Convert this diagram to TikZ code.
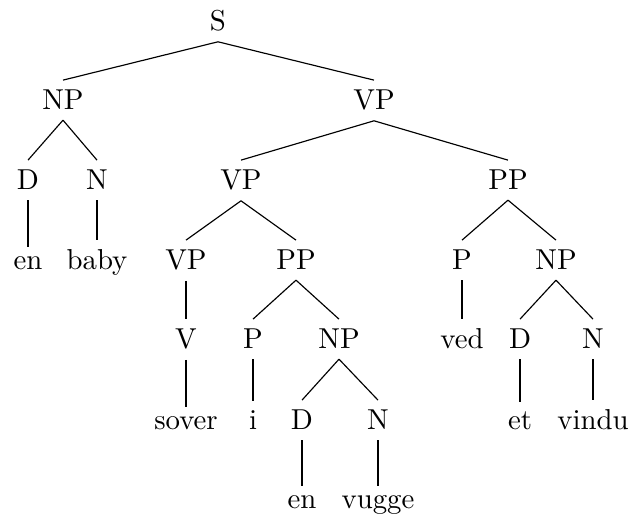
\documentclass[tikz,border=0pt]{standalone}
\begin{document}
\begin{tikzpicture}[x=0.347pt,y=-0.347pt,
  lab/.style={anchor=base, inner sep=3.33pt},
  branch/.style={draw=black, line width=0.4pt}]
\useasboundingbox (0,0) rectangle (630,518);
% row 1
\node[lab] (S) at (218,31) {S};
% row 2
\node[lab] (np1) at (63,110) {NP};
\node[lab] (vp1) at (374,110) {VP};
% row 3
\node[lab] (d1) at (28,190) {D};
\node[lab] (n1) at (97,190) {N};
\node[lab] (vp2) at (241,190) {VP};
\node[lab] (pp1) at (508,190) {PP};
% row 4
\node[lab] (en1) at (28,270) {en};
\node[lab] (baby) at (97,270) {baby};
\node[lab] (vp3) at (186,270) {VP};
\node[lab] (pp2) at (296,270) {PP};
\node[lab] (p1) at (462,270) {P};
\node[lab] (np2) at (556,270) {NP};
% row 5
\node[lab] (v) at (186,349) {V};
\node[lab] (p2) at (253,349) {P};
\node[lab] (np3) at (339,349) {NP};
\node[lab] (ved) at (462,349) {ved};
\node[lab] (d2) at (520,349) {D};
\node[lab] (n2) at (593,349) {N};
% row 6
\node[lab] (sover) at (186,430) {sover};
\node[lab] (iw) at (253,430) {i};
\node[lab] (d3) at (302,430) {D};
\node[lab] (n3) at (378,430) {N};
\node[lab] (et) at (520,430) {et};
\node[lab] (vindu) at (593,430) {vindu};
% row 7
\node[lab] (en2) at (302,509) {en};
\node[lab] (vugge) at (378,509) {vugge};
% edges
\draw[branch] (S.south) -- (np1.north);
\draw[branch] (S.south) -- (vp1.north);
\draw[branch] (np1.south) -- (d1.north);
\draw[branch] (np1.south) -- (n1.north);
\draw[branch] (d1.south) -- (en1.north);
\draw[branch] (n1.south) -- (baby.north);
\draw[branch] (vp1.south) -- (vp2.north);
\draw[branch] (vp1.south) -- (pp1.north);
\draw[branch] (vp2.south) -- (vp3.north);
\draw[branch] (vp2.south) -- (pp2.north);
\draw[branch] (vp3.south) -- (v.north);
\draw[branch] (v.south) -- (sover.north);
\draw[branch] (pp2.south) -- (p2.north);
\draw[branch] (pp2.south) -- (np3.north);
\draw[branch] (p2.south) -- (iw.north);
\draw[branch] (np3.south) -- (d3.north);
\draw[branch] (np3.south) -- (n3.north);
\draw[branch] (d3.south) -- (en2.north);
\draw[branch] (n3.south) -- (vugge.north);
\draw[branch] (pp1.south) -- (p1.north);
\draw[branch] (pp1.south) -- (np2.north);
\draw[branch] (p1.south) -- (ved.north);
\draw[branch] (np2.south) -- (d2.north);
\draw[branch] (np2.south) -- (n2.north);
\draw[branch] (d2.south) -- (et.north);
\draw[branch] (n2.south) -- (vindu.north);
\end{tikzpicture}
\end{document}
